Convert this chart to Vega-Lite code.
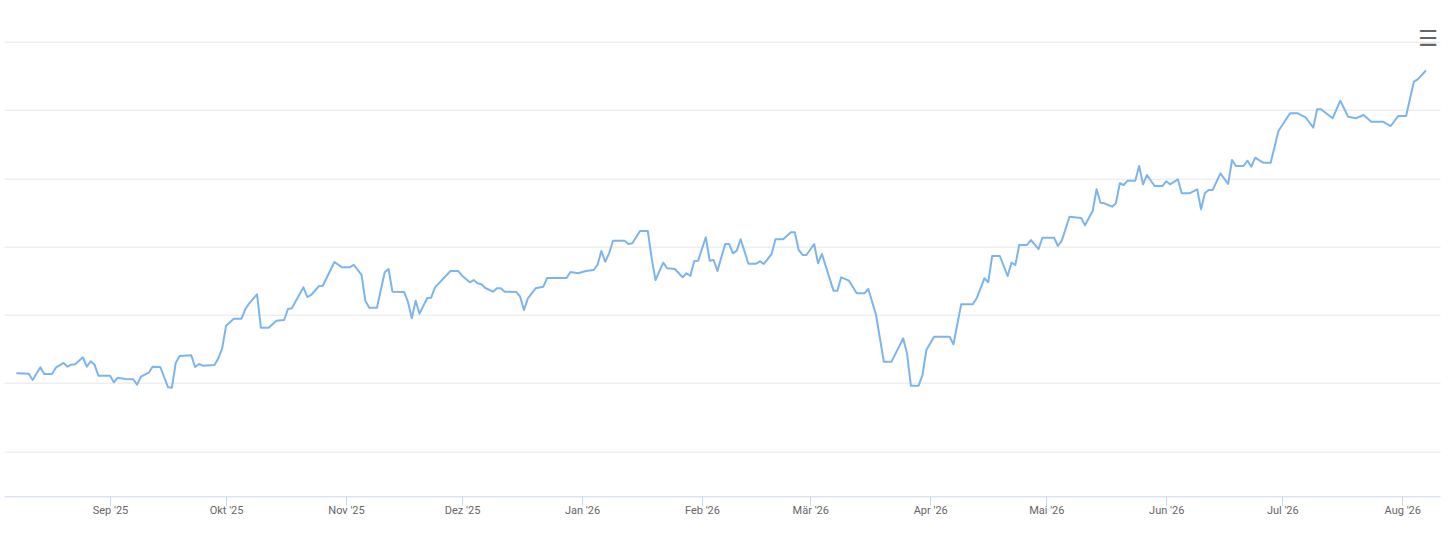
{
  "$schema": "https://vega.github.io/schema/vega-lite/v6.json",
  "description": "Line chart of a daily value over one year (Aug 2025 - Aug 2026).",
  "autosize": "none",
  "padding": {"left": 4, "right": 9, "top": 41.7, "bottom": 36.7},
  "width": 1436,
  "height": 454.6,
  "background": "#ffffff",
  "title": {
    "text": "☰",
    "anchor": "end",
    "frame": "group",
    "orient": "top",
    "baseline": "middle",
    "offset": 0,
    "dx": -2,
    "dy": 19,
    "font": "DejaVu Sans",
    "fontSize": 22,
    "fontWeight": "bold",
    "color": "#666666"
  },
  "data": {
    "values": [
      {"date": "2025-08-08", "value": 31.43},
      {"date": "2025-08-11", "value": 31.37},
      {"date": "2025-08-12", "value": 30.45},
      {"date": "2025-08-14", "value": 32.31},
      {"date": "2025-08-15", "value": 31.32},
      {"date": "2025-08-17", "value": 31.32},
      {"date": "2025-08-18", "value": 32.25},
      {"date": "2025-08-20", "value": 32.94},
      {"date": "2025-08-21", "value": 32.39},
      {"date": "2025-08-22", "value": 32.69},
      {"date": "2025-08-23", "value": 32.75},
      {"date": "2025-08-25", "value": 33.77},
      {"date": "2025-08-26", "value": 32.39},
      {"date": "2025-08-27", "value": 33.19},
      {"date": "2025-08-28", "value": 32.69},
      {"date": "2025-08-29", "value": 31.08},
      {"date": "2025-09-01", "value": 31.08},
      {"date": "2025-09-02", "value": 30.11},
      {"date": "2025-09-03", "value": 30.78},
      {"date": "2025-09-05", "value": 30.59},
      {"date": "2025-09-07", "value": 30.55},
      {"date": "2025-09-08", "value": 29.76},
      {"date": "2025-09-09", "value": 30.93},
      {"date": "2025-09-11", "value": 31.51},
      {"date": "2025-09-12", "value": 32.39},
      {"date": "2025-09-14", "value": 32.35},
      {"date": "2025-09-16", "value": 29.38},
      {"date": "2025-09-17", "value": 29.32},
      {"date": "2025-09-18", "value": 32.98},
      {"date": "2025-09-19", "value": 33.96},
      {"date": "2025-09-22", "value": 34.06},
      {"date": "2025-09-23", "value": 32.35},
      {"date": "2025-09-24", "value": 32.79},
      {"date": "2025-09-25", "value": 32.54},
      {"date": "2025-09-28", "value": 32.64},
      {"date": "2025-09-29", "value": 33.62},
      {"date": "2025-09-30", "value": 35.09},
      {"date": "2025-10-01", "value": 38.40},
      {"date": "2025-10-03", "value": 39.43},
      {"date": "2025-10-05", "value": 39.43},
      {"date": "2025-10-06", "value": 40.85},
      {"date": "2025-10-07", "value": 41.68},
      {"date": "2025-10-09", "value": 43.00},
      {"date": "2025-10-10", "value": 38.11},
      {"date": "2025-10-12", "value": 38.11},
      {"date": "2025-10-14", "value": 39.13},
      {"date": "2025-10-16", "value": 39.23},
      {"date": "2025-10-17", "value": 40.85},
      {"date": "2025-10-18", "value": 40.95},
      {"date": "2025-10-21", "value": 44.02},
      {"date": "2025-10-22", "value": 42.60},
      {"date": "2025-10-23", "value": 42.90},
      {"date": "2025-10-25", "value": 44.21},
      {"date": "2025-10-26", "value": 44.26},
      {"date": "2025-10-29", "value": 47.73},
      {"date": "2025-10-31", "value": 46.95},
      {"date": "2025-11-02", "value": 46.95},
      {"date": "2025-11-03", "value": 47.33},
      {"date": "2025-11-05", "value": 45.83},
      {"date": "2025-11-06", "value": 42.06},
      {"date": "2025-11-07", "value": 41.04},
      {"date": "2025-11-09", "value": 41.04},
      {"date": "2025-11-11", "value": 46.22},
      {"date": "2025-11-12", "value": 46.70},
      {"date": "2025-11-13", "value": 43.38},
      {"date": "2025-11-16", "value": 43.34},
      {"date": "2025-11-17", "value": 41.92},
      {"date": "2025-11-18", "value": 39.48},
      {"date": "2025-11-19", "value": 42.06},
      {"date": "2025-11-20", "value": 40.16},
      {"date": "2025-11-22", "value": 42.46},
      {"date": "2025-11-23", "value": 42.50},
      {"date": "2025-11-24", "value": 44.02},
      {"date": "2025-11-28", "value": 46.41},
      {"date": "2025-11-30", "value": 46.41},
      {"date": "2025-12-01", "value": 45.72},
      {"date": "2025-12-03", "value": 44.76},
      {"date": "2025-12-04", "value": 45.09},
      {"date": "2025-12-05", "value": 44.61},
      {"date": "2025-12-06", "value": 44.46},
      {"date": "2025-12-07", "value": 43.92},
      {"date": "2025-12-09", "value": 43.38},
      {"date": "2025-12-10", "value": 43.88},
      {"date": "2025-12-11", "value": 43.88},
      {"date": "2025-12-12", "value": 43.38},
      {"date": "2025-12-15", "value": 43.34},
      {"date": "2025-12-16", "value": 42.65},
      {"date": "2025-12-17", "value": 40.70},
      {"date": "2025-12-18", "value": 42.41},
      {"date": "2025-12-20", "value": 43.88},
      {"date": "2025-12-22", "value": 44.11},
      {"date": "2025-12-23", "value": 45.39},
      {"date": "2025-12-28", "value": 45.39},
      {"date": "2025-12-29", "value": 46.27},
      {"date": "2025-12-31", "value": 46.08},
      {"date": "2026-01-02", "value": 46.41},
      {"date": "2026-01-04", "value": 46.56},
      {"date": "2026-01-05", "value": 47.29},
      {"date": "2026-01-06", "value": 49.34},
      {"date": "2026-01-07", "value": 47.77},
      {"date": "2026-01-08", "value": 49.00},
      {"date": "2026-01-09", "value": 50.85},
      {"date": "2026-01-12", "value": 50.85},
      {"date": "2026-01-13", "value": 50.37},
      {"date": "2026-01-14", "value": 50.47},
      {"date": "2026-01-16", "value": 52.27},
      {"date": "2026-01-18", "value": 52.27},
      {"date": "2026-01-19", "value": 48.27},
      {"date": "2026-01-20", "value": 45.09},
      {"date": "2026-01-22", "value": 47.63},
      {"date": "2026-01-23", "value": 46.81},
      {"date": "2026-01-25", "value": 46.70},
      {"date": "2026-01-27", "value": 45.49},
      {"date": "2026-01-28", "value": 46.08},
      {"date": "2026-01-29", "value": 45.68},
      {"date": "2026-01-30", "value": 47.88},
      {"date": "2026-01-31", "value": 47.92},
      {"date": "2026-02-02", "value": 51.35},
      {"date": "2026-02-03", "value": 47.92},
      {"date": "2026-02-04", "value": 48.02},
      {"date": "2026-02-05", "value": 46.41},
      {"date": "2026-02-07", "value": 50.37},
      {"date": "2026-02-08", "value": 50.37},
      {"date": "2026-02-09", "value": 49.00},
      {"date": "2026-02-10", "value": 49.39},
      {"date": "2026-02-11", "value": 51.06},
      {"date": "2026-02-13", "value": 47.48},
      {"date": "2026-02-15", "value": 47.48},
      {"date": "2026-02-16", "value": 47.83},
      {"date": "2026-02-17", "value": 47.44},
      {"date": "2026-02-19", "value": 48.90},
      {"date": "2026-02-20", "value": 51.06},
      {"date": "2026-02-22", "value": 51.06},
      {"date": "2026-02-24", "value": 52.08},
      {"date": "2026-02-25", "value": 52.08},
      {"date": "2026-02-26", "value": 49.49},
      {"date": "2026-02-27", "value": 48.76},
      {"date": "2026-02-28", "value": 48.76},
      {"date": "2026-03-02", "value": 50.37},
      {"date": "2026-03-03", "value": 47.54},
      {"date": "2026-03-04", "value": 48.90},
      {"date": "2026-03-07", "value": 43.53},
      {"date": "2026-03-08", "value": 43.53},
      {"date": "2026-03-09", "value": 45.49},
      {"date": "2026-03-11", "value": 44.99},
      {"date": "2026-03-13", "value": 43.15},
      {"date": "2026-03-15", "value": 43.15},
      {"date": "2026-03-16", "value": 43.78},
      {"date": "2026-03-18", "value": 39.97},
      {"date": "2026-03-20", "value": 33.13},
      {"date": "2026-03-22", "value": 33.13},
      {"date": "2026-03-25", "value": 36.55},
      {"date": "2026-03-26", "value": 34.36},
      {"date": "2026-03-27", "value": 29.61},
      {"date": "2026-03-29", "value": 29.61},
      {"date": "2026-03-30", "value": 31.18},
      {"date": "2026-03-31", "value": 34.84},
      {"date": "2026-04-02", "value": 36.79},
      {"date": "2026-04-06", "value": 36.79},
      {"date": "2026-04-07", "value": 35.68},
      {"date": "2026-04-09", "value": 41.53},
      {"date": "2026-04-12", "value": 41.53},
      {"date": "2026-04-13", "value": 42.41},
      {"date": "2026-04-15", "value": 45.34},
      {"date": "2026-04-16", "value": 44.76},
      {"date": "2026-04-17", "value": 48.61},
      {"date": "2026-04-19", "value": 48.61},
      {"date": "2026-04-21", "value": 45.68},
      {"date": "2026-04-22", "value": 47.63},
      {"date": "2026-04-23", "value": 47.29},
      {"date": "2026-04-24", "value": 50.22},
      {"date": "2026-04-26", "value": 50.22},
      {"date": "2026-04-27", "value": 50.95},
      {"date": "2026-04-29", "value": 49.63},
      {"date": "2026-04-30", "value": 51.29},
      {"date": "2026-05-03", "value": 51.29},
      {"date": "2026-05-04", "value": 50.07},
      {"date": "2026-05-05", "value": 50.85},
      {"date": "2026-05-07", "value": 54.37},
      {"date": "2026-05-10", "value": 54.18},
      {"date": "2026-05-11", "value": 53.11},
      {"date": "2026-05-13", "value": 55.24},
      {"date": "2026-05-14", "value": 58.38},
      {"date": "2026-05-15", "value": 56.42},
      {"date": "2026-05-16", "value": 56.33},
      {"date": "2026-05-18", "value": 55.83},
      {"date": "2026-05-19", "value": 56.33},
      {"date": "2026-05-20", "value": 59.26},
      {"date": "2026-05-21", "value": 59.01},
      {"date": "2026-05-22", "value": 59.64},
      {"date": "2026-05-24", "value": 59.64},
      {"date": "2026-05-25", "value": 61.79},
      {"date": "2026-05-26", "value": 59.11},
      {"date": "2026-05-27", "value": 60.47},
      {"date": "2026-05-29", "value": 58.86},
      {"date": "2026-05-31", "value": 58.86},
      {"date": "2026-06-01", "value": 59.55},
      {"date": "2026-06-02", "value": 59.11},
      {"date": "2026-06-04", "value": 59.84},
      {"date": "2026-06-05", "value": 57.79},
      {"date": "2026-06-07", "value": 57.79},
      {"date": "2026-06-09", "value": 58.38},
      {"date": "2026-06-10", "value": 55.45},
      {"date": "2026-06-11", "value": 57.84},
      {"date": "2026-06-12", "value": 58.28},
      {"date": "2026-06-13", "value": 58.28},
      {"date": "2026-06-15", "value": 60.72},
      {"date": "2026-06-17", "value": 59.16},
      {"date": "2026-06-18", "value": 62.67},
      {"date": "2026-06-19", "value": 61.79},
      {"date": "2026-06-21", "value": 61.79},
      {"date": "2026-06-22", "value": 62.57},
      {"date": "2026-06-23", "value": 61.69},
      {"date": "2026-06-24", "value": 63.01},
      {"date": "2026-06-26", "value": 62.28},
      {"date": "2026-06-28", "value": 62.28},
      {"date": "2026-06-30", "value": 66.92},
      {"date": "2026-07-03", "value": 69.51},
      {"date": "2026-07-05", "value": 69.51},
      {"date": "2026-07-07", "value": 68.93},
      {"date": "2026-07-09", "value": 67.40},
      {"date": "2026-07-10", "value": 70.10},
      {"date": "2026-07-11", "value": 70.10},
      {"date": "2026-07-14", "value": 68.78},
      {"date": "2026-07-16", "value": 71.36},
      {"date": "2026-07-18", "value": 69.01},
      {"date": "2026-07-20", "value": 68.78},
      {"date": "2026-07-22", "value": 69.26},
      {"date": "2026-07-24", "value": 68.28},
      {"date": "2026-07-27", "value": 68.28},
      {"date": "2026-07-29", "value": 67.65},
      {"date": "2026-07-31", "value": 69.12},
      {"date": "2026-08-02", "value": 69.12},
      {"date": "2026-08-04", "value": 74.14},
      {"date": "2026-08-05", "value": 74.49},
      {"date": "2026-08-07", "value": 75.71}
    ]
  },
  "mark": {
    "type": "line",
    "color": "#7cb5ec",
    "strokeWidth": 2,
    "strokeJoin": "round",
    "strokeCap": "round"
  },
  "encoding": {
    "x": {
      "field": "date",
      "type": "temporal",
      "scale": {
        "type": "utc",
        "domain": [
          {"year": 2025, "month": 8, "date": 4, "hours": 14, "minutes": 24, "utc": true},
          {"year": 2026, "month": 8, "date": 10, "hours": 18, "minutes": 14, "utc": true}
        ],
        "nice": false
      },
      "axis": {
        "title": null,
        "grid": false,
        "tickCount": {"interval": "month", "step": 1},
        "labelExpr": "['Jan','Feb','Mär','Apr','Mai','Jun','Jul','Aug','Sep','Okt','Nov','Dez'][utcmonth(datum.value)] + \" '\" + utcFormat(datum.value, '%y')",
        "domainColor": "#ccd6eb",
        "domainWidth": 1,
        "tickColor": "#ccd6eb",
        "tickSize": 9,
        "labelFont": "Roboto",
        "labelFontSize": 11,
        "labelColor": "#666666",
        "labelPadding": -1,
        "labelFlush": false,
        "labelOverlap": false
      }
    },
    "y": {
      "field": "value",
      "type": "quantitative",
      "scale": {"domain": [13.41, 80], "nice": false, "zero": false},
      "axis": {
        "title": null,
        "values": [20, 30, 40, 50, 60, 70, 80],
        "labels": false,
        "ticks": false,
        "domain": false,
        "grid": true,
        "gridColor": "#e6e6e6",
        "gridWidth": 1
      }
    }
  },
  "config": {
    "view": {"stroke": null}
  }
}
